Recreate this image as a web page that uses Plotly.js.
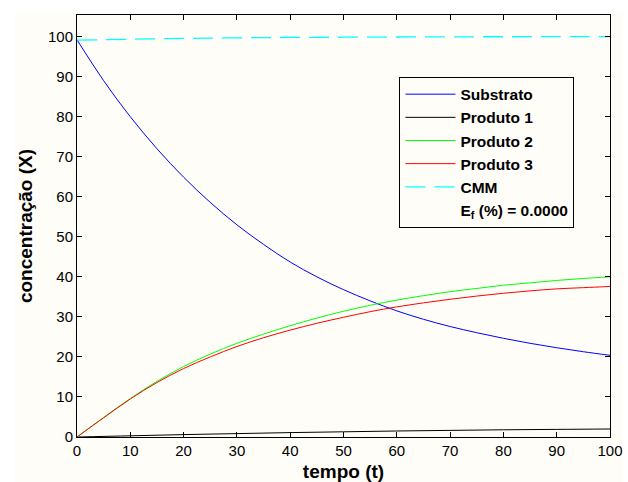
<!DOCTYPE html>
<html>
<head>
<meta charset="utf-8">
<script src="https://cdn.plot.ly/plotly-3.0.1.min.js"></script>
<style>
  html, body { margin: 0; padding: 0; background: #ffffff; width: 628px; height: 482px; overflow: hidden; }
  #chart { position: absolute; left: 15px; top: 13px; width: 608px; height: 469px; }
</style>
</head>
<body>
<div id="chart"></div>
<script>
// ---- data ----
const t = [0, 5, 10, 15, 20, 25, 30, 35, 40, 45, 50, 55, 60, 65, 70, 75, 80, 85, 90, 95, 100];
const substrato = [99.2, 89.0, 80.0, 72.0, 64.9, 58.6, 53.0, 48.1, 43.7, 40.0, 36.8, 34.0, 31.5, 29.4, 27.6, 26.05, 24.65, 23.4, 22.3, 21.3, 20.4];
const produto2  = [0, 4.9, 9.6, 13.9, 17.6, 20.7, 23.4, 25.7, 27.8, 29.7, 31.4, 32.9, 34.2, 35.3, 36.3, 37.1, 37.9, 38.5, 39.1, 39.6, 40.0];
const produto3  = [0, 4.8, 9.5, 13.6, 17.1, 20.0, 22.6, 24.8, 26.7, 28.4, 29.9, 31.3, 32.5, 33.5, 34.4, 35.2, 35.9, 36.5, 37.0, 37.3, 37.6];
const t10 = [0, 10, 20, 30, 40, 50, 60, 70, 80, 90, 100];
const produto1  = [0, 0.3, 0.6, 0.85, 1.1, 1.3, 1.5, 1.65, 1.8, 1.9, 2.0];
const cmm       = [99.1, 99.35, 99.55, 99.7, 99.8, 99.85, 99.9, 99.95, 99.97, 99.99, 100];
const names = ["Substrato", "Produto 1", "Produto 2", "Produto 3", "CMM", "E<sub>f</sub> (%) = 0.0000"];
const xTicks = [0, 10, 20, 30, 40, 50, 60, 70, 80, 90, 100];
const yTicks = [0, 10, 20, 30, 40, 50, 60, 70, 80, 90, 100];

const bg = "#fffdf8";
const font = "Liberation Sans, Arial, sans-serif";

const traces = [
  {x: t, y: substrato, name: names[0], mode: "lines", line: {color: "#0000ff", width: 1, shape: "spline", smoothing: 1}},
  {x: t10, y: produto1, name: names[1], mode: "lines", line: {color: "#000000", width: 1, shape: "spline"}},
  {x: t, y: produto2, name: names[2], mode: "lines", line: {color: "#00ff00", width: 1, shape: "spline", smoothing: 1}},
  {x: t, y: produto3, name: names[3], mode: "lines", line: {color: "#ff0000", width: 1, shape: "spline", smoothing: 1}},
  {x: t10, y: cmm, name: names[4], mode: "lines", line: {color: "#00ffff", width: 1.3, dash: "20px,9px", shape: "spline"}},
  {x: [t10[0]], y: [cmm[0]], name: names[5], mode: "lines", line: {color: "rgba(0,0,0,0)", width: 0}, hoverinfo: "skip"}
];

const axisCommon = {
  showline: true, linecolor: "#000000", linewidth: 1, mirror: "ticks",
  ticks: "inside", ticklen: 5, tickwidth: 1, tickcolor: "#000000",
  showgrid: false, zeroline: false,
  tickfont: {family: font, size: 15, color: "#000000"}
};

const layout = {
  width: 608, height: 469,
  paper_bgcolor: bg, plot_bgcolor: bg,
  margin: {l: 62, r: 13, t: 2, b: 45},
  showlegend: true,
  xaxis: Object.assign({}, axisCommon, {
    range: [0, 100], tickvals: xTicks, ticktext: xTicks.map(String),
    title: {text: "tempo (t)", font: {family: font, size: 19, weight: "bold", color: "#000000"}, standoff: 6}
  }),
  yaxis: Object.assign({}, axisCommon, {
    range: [0, 105.4], tickvals: yTicks, ticktext: yTicks.map(String),
    title: {text: "concentração (X)", font: {family: font, size: 19, weight: "bold", color: "#000000"}, standoff: 10}
  }),
  legend: {
    x: 0.605, y: 0.854, xanchor: "left", yanchor: "top",
    bgcolor: bg, bordercolor: "#000000", borderwidth: 1,
    font: {family: font, size: 15.5, weight: "bold", color: "#000000"},
    itemwidth: 50, tracegroupgap: 0
  }
};

Plotly.newPlot("chart", traces, layout, {displayModeBar: false, staticPlot: true});
</script>
</body>
</html>
